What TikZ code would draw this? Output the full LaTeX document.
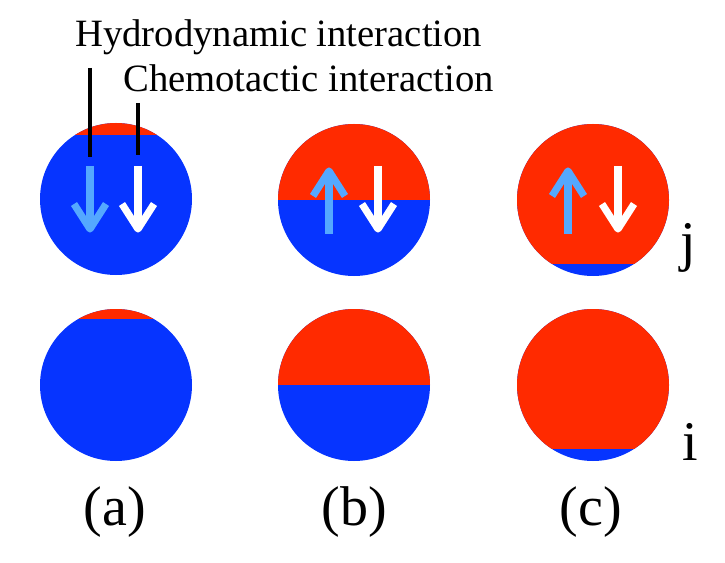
\documentclass[tikz,border=0pt]{standalone}
\usepackage{fontspec}
\setmainfont{Liberation Serif}
\usepackage{tikz}
\usetikzlibrary{positioning}
\definecolor{capred}{RGB}{255,42,0}
\definecolor{capblue}{RGB}{6,52,255}
\definecolor{hydroblue}{RGB}{84,168,255}

% --- particles: red above the split, blue below ---
% #1,#2 centre, #3 split height measured from the centre
\newcommand{\particle}[3]{%
  \fill[capblue] (#1,#2) circle (76);
  \begin{scope}
    \clip (#1,#2) circle (76);
    \fill[capred] (#1-90,#2-90) rectangle (#1+90,#2+#3);
  \end{scope}}

\begin{document}
\begin{tikzpicture}[x=0.75pt, y=-0.75pt,
    tag/.style     ={inner sep=0pt, font=\fontsize{29}{32}\selectfont},
    panel/.style   ={inner sep=0pt, font=\fontsize{42}{46}\selectfont},
    pointer/.style ={black, line width=3pt},
    hydro/.style   ={hydroblue, line width=5.4pt, line join=round},
    chemo/.style   ={white, line width=5.4pt, line join=round}
]
% --- bounding box ---
\useasboundingbox (0,0) rectangle (725,563);

% column (a)
\particle{116}{199}{-64}
\particle{116}{385}{-66}
% column (b)
\particle{354}{200}{0}
\particle{354}{385}{0}
% column (c)
\particle{593}{200}{64}
\particle{593}{385}{64}

% --- arrows in the upper row ---
\draw[hydro] (90,166) -- (90,229);
\draw[hydro] (74,204) -- (90,229) -- (106,204);
\draw[chemo] (138,166) -- (138,229);
\draw[chemo] (122,204) -- (138,229) -- (154,204);

\draw[hydro] (329,234) -- (329,171);
\draw[hydro] (313,196) -- (329,171) -- (345,196);
\draw[chemo] (378,166) -- (378,229);
\draw[chemo] (362,204) -- (378,229) -- (394,204);

\draw[hydro] (568,234) -- (568,171);
\draw[hydro] (552,196) -- (568,171) -- (584,196);
\draw[chemo] (618,166) -- (618,229);
\draw[chemo] (602,204) -- (618,229) -- (634,204);

% --- interaction labels and pointers ---
\node[tag, anchor=base west] (hydrolbl) at (75,47) {Hydrodynamic interaction};
\node[tag, anchor=base west] (chemolbl) at (123,92) {Chemotactic interaction};
\coordinate (hydrotop) at (90,68);
\coordinate (hydroend) at (90,157);
\coordinate (chemotop) at (138,103);
\coordinate (chemoend) at (138,155);
\draw[pointer] (hydrotop) -- (hydroend);
\draw[pointer] (chemotop) -- (chemoend);

% --- particle and panel names ---
\node[panel, anchor=base] (pj) at (688,260) {j};
\node[panel, anchor=base] (pi) at (690,460) {i};
\node[panel, anchor=base] (pa) at (115,525) {(a)};
\node[panel, anchor=base] (pb) at (354,525) {(b)};
\node[panel, anchor=base] (pc) at (591,525) {(c)};
\end{tikzpicture}
\end{document}
